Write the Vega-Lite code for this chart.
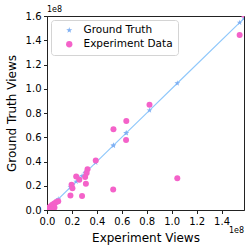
{
  "$schema": "https://vega.github.io/schema/vega-lite/v6.json",
  "autosize": "none",
  "width": 197,
  "height": 194,
  "padding": {"left": 47, "top": 16, "right": 8, "bottom": 42},
  "config": {
    "font": "DejaVu Sans",
    "view": {"stroke": "#222", "strokeWidth": 1},
    "axis": {
      "grid": false,
      "domainColor": "#222",
      "tickColor": "#222",
      "tickSize": 3.5,
      "labelFontSize": 10,
      "labelColor": "#000",
      "labelOverlap": false,
      "labelFlush": false,
      "labelBound": false,
      "titleFontSize": 12,
      "titleFontWeight": "normal",
      "titleColor": "#000",
      "labelPadding": 2.5
    },
    "axisX": {"titlePadding": 6},
    "axisY": {"titlePadding": 7}
  },
  "data": {
    "values": [
      {"Ground Truth": 158000000, "Experiment Data": 161000000},
      {"Ground Truth": 154500000, "Experiment Data": 144400000},
      {"Ground Truth": 104500000, "Experiment Data": 26200000},
      {"Ground Truth": 82200000, "Experiment Data": 86900000},
      {"Ground Truth": 63600000, "Experiment Data": 73500000},
      {"Ground Truth": 63400000, "Experiment Data": 57700000},
      {"Ground Truth": 53300000, "Experiment Data": 66700000},
      {"Ground Truth": 53100000, "Experiment Data": 17000000},
      {"Ground Truth": 39100000, "Experiment Data": 40800000},
      {"Ground Truth": 32500000, "Experiment Data": 33600000},
      {"Ground Truth": 31800000, "Experiment Data": 30500000},
      {"Ground Truth": 30600000, "Experiment Data": 27200000},
      {"Ground Truth": 31200000, "Experiment Data": 21600000},
      {"Ground Truth": 28100000, "Experiment Data": 11500000},
      {"Ground Truth": 23400000, "Experiment Data": 27600000},
      {"Ground Truth": 25900000, "Experiment Data": 25000000},
      {"Ground Truth": 19700000, "Experiment Data": 20800000},
      {"Ground Truth": 20400000, "Experiment Data": 18000000},
      {"Ground Truth": 18800000, "Experiment Data": 12000000},
      {"Ground Truth": 9000000, "Experiment Data": 7200000},
      {"Ground Truth": 7500000, "Experiment Data": 6500000},
      {"Ground Truth": 6200000, "Experiment Data": 5500000},
      {"Ground Truth": 5000000, "Experiment Data": 4800000},
      {"Ground Truth": 4000000, "Experiment Data": 4200000},
      {"Ground Truth": 3000000, "Experiment Data": 3000000},
      {"Ground Truth": 2000000, "Experiment Data": 2200000},
      {"Ground Truth": 1000000, "Experiment Data": 1200000},
      {"Ground Truth": 500000, "Experiment Data": 400000},
      {"Ground Truth": 6000000, "Experiment Data": 2000000},
      {"Ground Truth": 4500000, "Experiment Data": 1000000},
      {"Ground Truth": 3500000, "Experiment Data": 500000},
      {"Ground Truth": 1500000, "Experiment Data": 300000}
    ]
  },
  "layer": [
    {
      "mark": {"type": "line", "color": "#90c8fb", "strokeWidth": 1.2, "clip": true},
      "encoding": {
        "x": {"field": "Ground Truth", "type": "quantitative",
              "scale": {"domain": [0, 158000000], "nice": false, "zero": true},
              "axis": {"title": "Experiment Views", "values": [0, 20000000, 40000000, 60000000, 80000000, 100000000, 120000000, 140000000],
                       "labelExpr": "format(datum.value/1e8, '.1f')"}},
        "y": {"field": "Ground Truth", "type": "quantitative",
              "scale": {"domain": [0, 160000000], "nice": false},
              "axis": {"title": "Ground Truth Views", "values": [0, 20000000, 40000000, 60000000, 80000000, 100000000, 120000000, 140000000, 160000000],
                       "labelExpr": "format(datum.value/1e8, '.1f')"}},
        "order": {"field": "Ground Truth", "type": "quantitative"}
      }
    },
    {
      "transform": [{"fold": ["Ground Truth", "Experiment Data"], "as": ["series", "val"]}],
      "mark": {"type": "point", "filled": true, "opacity": 1, "size": 36, "clip": true},
      "encoding": {
        "x": {"field": "Ground Truth", "type": "quantitative",
              "axis": {"title": "Experiment Views", "values": [0, 20000000, 40000000, 60000000, 80000000, 100000000, 120000000, 140000000],
                       "labelExpr": "format(datum.value/1e8, '.1f')"}},
        "y": {"field": "val", "type": "quantitative",
              "axis": {"title": "Ground Truth Views", "values": [0, 20000000, 40000000, 60000000, 80000000, 100000000, 120000000, 140000000, 160000000],
                       "labelExpr": "format(datum.value/1e8, '.1f')"}},
        "order": {"field": "series", "type": "nominal", "sort": "descending"},
        "color": {"field": "series", "type": "nominal",
                  "scale": {"domain": ["Ground Truth", "Experiment Data"], "range": ["#7fb0f3", "#f462c9"]},
                  "legend": {"title": null, "orient": "top-left", "offset": 4,
                             "fillColor": "white", "strokeColor": "#d4d4d4", "cornerRadius": 3,
                             "padding": 5, "symbolOffset": 8, "labelOffset": 9,
                             "labelFontSize": 10.5, "labelColor": "#000", "symbolSize": 40, "rowPadding": 3}},
        "shape": {"field": "series", "type": "nominal",
                  "scale": {"domain": ["Ground Truth", "Experiment Data"],
                            "range": ["M0,-1L0.22,-0.31L0.95,-0.31L0.36,0.12L0.59,0.81L0,0.38L-0.59,0.81L-0.36,0.12L-0.95,-0.31L-0.22,-0.31Z", "circle"]}}
      }
    },
    {
      "data": {"values": [{"t": "1e8"}]},
      "mark": {"type": "text", "align": "left", "baseline": "bottom", "dy": -2, "fontSize": 8, "color": "#000"},
      "encoding": {
        "x": {"datum": 0, "type": "quantitative",
              "axis": {"title": "Experiment Views", "values": [0, 20000000, 40000000, 60000000, 80000000, 100000000, 120000000, 140000000],
                       "labelExpr": "format(datum.value/1e8, '.1f')"}},
        "y": {"datum": 160000000, "type": "quantitative",
              "axis": {"title": "Ground Truth Views", "values": [0, 20000000, 40000000, 60000000, 80000000, 100000000, 120000000, 140000000, 160000000],
                       "labelExpr": "format(datum.value/1e8, '.1f')"}},
        "text": {"field": "t"}
      }
    },
    {
      "data": {"values": [{"t": "1e8"}]},
      "mark": {"type": "text", "align": "right", "baseline": "middle", "dy": 21, "fontSize": 8, "color": "#000"},
      "encoding": {
        "x": {"datum": 158000000, "type": "quantitative",
              "axis": {"title": "Experiment Views", "values": [0, 20000000, 40000000, 60000000, 80000000, 100000000, 120000000, 140000000],
                       "labelExpr": "format(datum.value/1e8, '.1f')"}},
        "y": {"datum": 0, "type": "quantitative",
              "axis": {"title": "Ground Truth Views", "values": [0, 20000000, 40000000, 60000000, 80000000, 100000000, 120000000, 140000000, 160000000],
                       "labelExpr": "format(datum.value/1e8, '.1f')"}},
        "text": {"field": "t"}
      }
    }
  ]
}
